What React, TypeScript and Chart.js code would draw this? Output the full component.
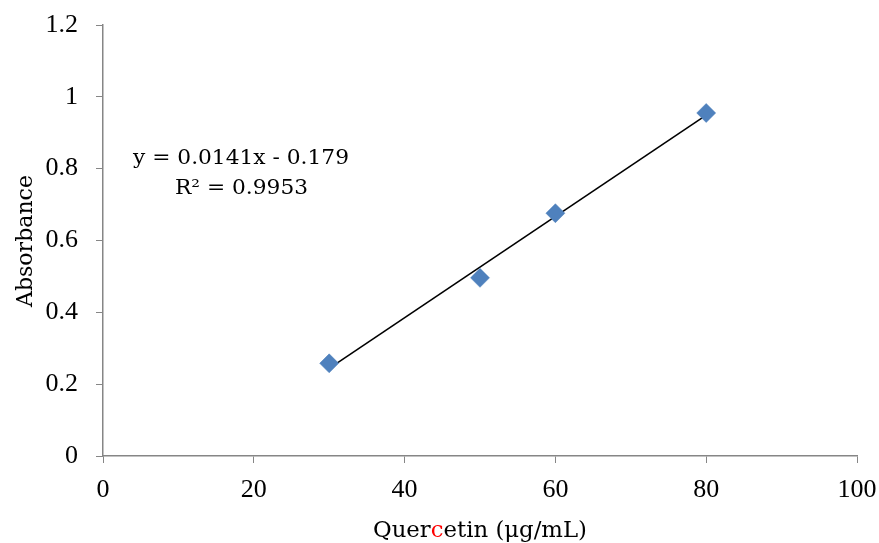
import React, { useEffect, useRef } from "react";
import { Chart, registerables } from "chart.js";

Chart.register(...registerables);

const concentrations = [30, 50, 60, 80];
const absorbances = [0.258, 0.496, 0.676, 0.955];
const trendX = [30, 80];
const trendY = [0.244, 0.949];
const equationLines = ["y = 0.0141x - 0.179", "R² = 0.9953"];
const xTitleParts = [
  { text: "Quer", color: "#000000" },
  { text: "c", color: "#ff0000" },
  { text: "etin (μg/mL)", color: "#000000" },
];
const yTitle = "Absorbance";

const TICK_FONT = "'Liberation Serif', 'DejaVu Serif', serif";
const TEXT_FONT = "'DejaVu Serif', 'Liberation Serif', serif";
const AXIS_COLOR = "#868686";

// draw text fitted horizontally to a target width (left edge x)
function fittedText(
  ctx: CanvasRenderingContext2D,
  parts: { text: string; color: string }[],
  left: number,
  baseline: number,
  targetWidth: number
) {
  const widths = parts.map((p) => ctx.measureText(p.text).width);
  const total = widths.reduce((a, b) => a + b, 0);
  const sx = targetWidth / total;
  ctx.save();
  ctx.translate(left, baseline);
  ctx.scale(sx, 1);
  ctx.textAlign = "left";
  ctx.textBaseline = "alphabetic";
  let x = 0;
  parts.forEach((p, i) => {
    ctx.fillStyle = p.color;
    ctx.fillText(p.text, x, 0);
    x += widths[i];
  });
  ctx.restore();
}

const textPlugin = {
  id: "customText",
  afterDraw(chart: any) {
    const ctx = chart.ctx as CanvasRenderingContext2D;
    const area = chart.chartArea;
    ctx.save();
    ctx.font = `20.5px ${TEXT_FONT}`;
    fittedText(ctx, [{ text: equationLines[0], color: "#000" }], 133, 164, 216);
    fittedText(ctx, [{ text: equationLines[1], color: "#000" }], 175, 194, 133);
    ctx.font = `22px ${TEXT_FONT}`;
    const midX = (area.left + area.right) / 2;
    fittedText(ctx, xTitleParts, midX - 107, 537, 214);
    ctx.save();
    ctx.translate(32, 307);
    ctx.rotate(-Math.PI / 2);
    fittedText(ctx, [{ text: yTitle, color: "#000" }], 0, 0, 132);
    ctx.restore();
    ctx.restore();
  },
};

function clearScalePadding(scale: any) {
  scale.paddingLeft = 0;
  scale.paddingRight = 0;
  scale.paddingTop = 0;
  scale.paddingBottom = 0;
}

export default function App() {
  const ref = useRef<HTMLCanvasElement | null>(null);
  useEffect(() => {
    document.body.style.margin = "0";
    const canvas = ref.current!;
    const chart = new Chart(canvas, {
      type: "scatter",
      data: {
        datasets: [
          {
            label: "Trend",
            data: trendX.map((x, i) => ({ x, y: trendY[i] })),
            showLine: true,
            borderColor: "#000000",
            borderWidth: 1.6,
            pointRadius: 0,
            order: 1,
          },
          {
            label: "Absorbance",
            data: concentrations.map((x, i) => ({ x, y: absorbances[i] })),
            pointStyle: "rectRot",
            pointRadius: 9.5,
            pointBackgroundColor: "#4f81bd",
            pointBorderColor: "#4a7ebb",
            pointBorderWidth: 0.5,
            showLine: false,
            order: 0,
          },
        ],
      },
      options: {
        animation: false,
        responsive: false,
        layout: { padding: { top: 25, right: 22, left: 0, bottom: 0 } },
        plugins: {
          legend: { display: false },
          tooltip: { enabled: false },
        },
        scales: {
          x: {
            type: "linear",
            min: 0,
            max: 100,
            ticks: {
              stepSize: 20,
              color: "#000",
              font: { family: TICK_FONT, size: 26 },
              padding: 12,
            },
            grid: {
              drawOnChartArea: false,
              drawTicks: true,
              tickLength: 7,
              color: AXIS_COLOR,
            },
            border: { color: AXIS_COLOR, width: 1.5 },
            afterFit(scale: any) {
              scale.height = 87;
              clearScalePadding(scale);
            },
          },
          y: {
            type: "linear",
            min: 0,
            max: 1.2,
            ticks: {
              stepSize: 0.2,
              color: "#000",
              font: { family: TICK_FONT, size: 26 },
              padding: 18,
              callback: (v: any) => String(Math.round(Number(v) * 10) / 10),
            },
            grid: {
              drawOnChartArea: false,
              drawTicks: true,
              tickLength: 7,
              color: AXIS_COLOR,
            },
            border: { color: AXIS_COLOR, width: 1.5 },
            afterFit(scale: any) {
              scale.width = 103;
              clearScalePadding(scale);
            },
          },
        },
      },
      plugins: [textPlugin],
    });
    return () => chart.destroy();
  }, []);
  return (
    <div style={{ width: 879, height: 543, background: "#fff" }}>
      <canvas ref={ref} width={879} height={543} />
    </div>
  );
}
